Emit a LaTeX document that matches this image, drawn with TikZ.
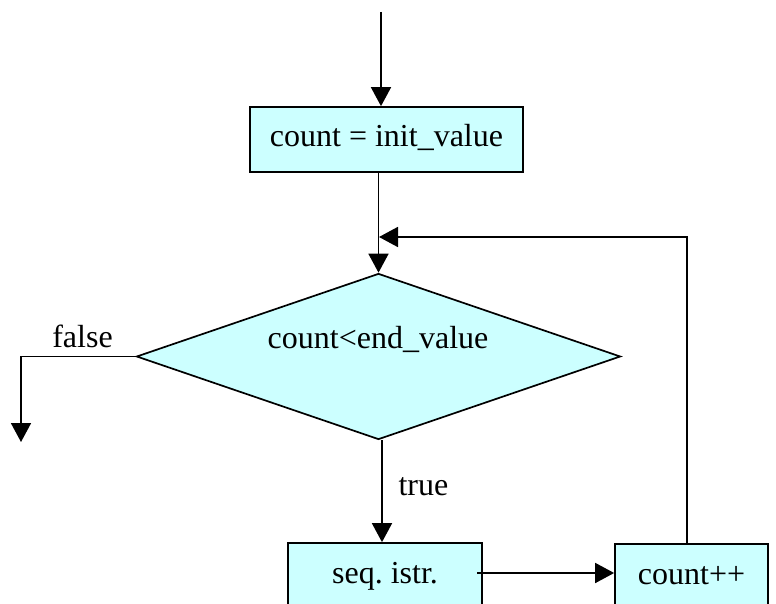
\documentclass[tikz,border=0pt]{standalone}
\usepackage{fontspec}
\setmainfont{Liberation Serif}
\usetikzlibrary{shapes.geometric,arrows.meta}
\definecolor{boxcyan}{HTML}{CCFFFF}
\begin{document}
\begin{tikzpicture}[x=1pt,y=-1pt,
  txt/.style={font=\fontsize{32}{36}\selectfont},
  stepbox/.style={draw=black, line width=1.7pt, fill=boxcyan, rectangle,
    inner sep=0pt, txt, text height=22pt, text depth=7pt},
  decision/.style={draw=black, line width=1.7pt, fill=boxcyan, diamond,
    aspect=2.9, inner sep=0pt, minimum width=484pt, minimum height=166pt},
  flow/.style={line width=1.7pt, -{Triangle[length=19pt,width=20pt]}}]

\useasboundingbox (0,0) rectangle (776,604);
\clip (0,0) rectangle (776,604);

% blocks
\node[stepbox, minimum width=273pt, minimum height=65pt] (init) at (386.5,139.5) {count = init\_value};
\node[decision] (cond) at (378.5,356.5) {};
\node[txt, anchor=base] (condtext) at (378,348) {count<end\_value};
\node[stepbox, minimum width=194pt, minimum height=65pt] (seq) at (385,575.5) {seq.\ istr.};
\node[stepbox, minimum width=153pt, minimum height=65pt] (inc) at (691.5,576.5) {count++};

% free ends and bends
\coordinate (start) at (381,12);
\coordinate (join) at (379,237);
\coordinate (loopcorner) at (687,237);
\coordinate (falseend) at (21,442);
\coordinate (seqout) at (477,573);

% connectors
\draw[flow] (start) -- (start |- init.north);
\draw[flow] (init.south -| cond.north) -- (cond.north);
\draw[flow] (inc.north -| loopcorner) -- (loopcorner) -- (join);
\draw[flow] (cond.west) -- (cond.west -| falseend) -- (falseend);
\draw[flow] ([xshift=3.5pt]cond.south) -- ([xshift=3.5pt]cond.south |- seq.north);
\draw[flow] (seqout) -- (inc.west |- seqout);

% branch labels
\node[txt, anchor=base] (falselabel) at (82.5,347) {false};
\node[txt, anchor=base west] (truelabel) at (395,495) {true};
\end{tikzpicture}
\end{document}
